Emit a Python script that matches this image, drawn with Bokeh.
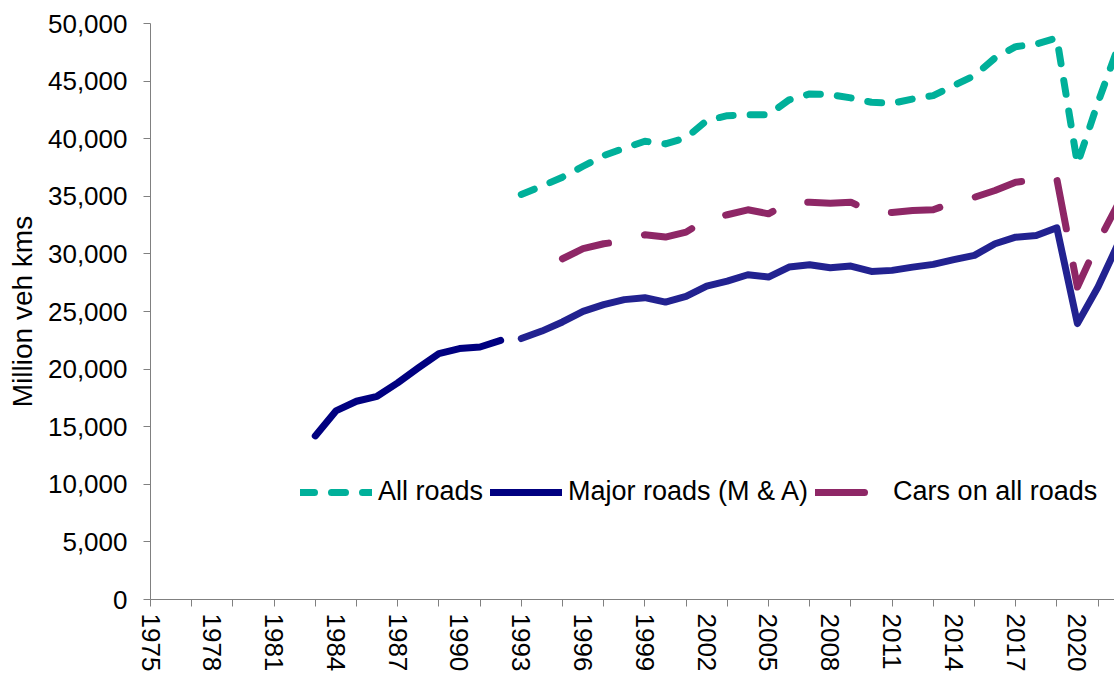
from bokeh.plotting import figure
from bokeh.models import Range1d, FixedTicker, NumeralTickFormatter, Legend, LegendItem
from bokeh.embed import file_html
from bokeh.resources import INLINE

# ---- data ----
years_all = list(range(1993, 2023))
all_roads = [35160, 35880, 36660, 37610, 38540, 39170, 39780, 39550, 40070, 41570,
             42000, 42070, 42070, 43370, 43890, 43830, 43540, 43160, 43070, 43450,
             43740, 44610, 45480, 47010, 47990, 48220, 48740, 37800, 43160, 48080]

years_major_old = list(range(1983, 1993))
major_old = [14200, 16370, 17210, 17640, 18800, 20100, 21350, 21780, 21920, 22500]

years_major_new = list(range(1993, 2023))
major_new = [22650, 23300, 24090, 25010, 25590, 26030, 26200, 25820, 26310, 27200,
             27640, 28190, 27990, 28860, 29060, 28800, 28940, 28480, 28570, 28850,
             29090, 29500, 29870, 30880, 31450, 31600, 32270, 23950, 27120, 30970]

years_cars = list(range(1995, 2023))
cars = [29580, 30450, 30880, 31110, 31660, 31460, 31890, 33000, 33400, 33830,
        33480, 34460, 34490, 34400, 34490, 33620, 33600, 33770, 33830, 34490,
        34920, 35500, 36220, 36430, 36500, 27120, 31020, 34430]

y_ticks = list(range(0, 50001, 5000))
x_label_years = list(range(1975, 2022, 3))
x_tick_years = list(range(1975, 2022, 2))

labels = ["All roads", "Major roads (M & A)", "Cars on all roads"]
y_title = "Million veh kms"

# ---- styles ----
FONT = "Liberation Sans"
TEAL = "#00B09A"
NAVY = "#000080"
NAVY2 = "#222290"
PURPLE = "#8E2766"
AXIS = "#808080"

p = figure(width=1114, height=675, output_backend="svg", toolbar_location=None,
           x_range=Range1d(1975, 2021.8), y_range=Range1d(0, 50000),
           min_border_left=150, min_border_right=0, min_border_top=23,
           min_border_bottom=76)
p.outline_line_color = None
p.grid.visible = False

r_all = p.line(years_all, all_roads, line_color=TEAL, line_width=7,
               line_dash="14 17", line_cap="round", line_join="round")
r_maj_old = p.line(years_major_old, major_old, line_color=NAVY, line_width=7,
                   line_cap="round", line_join="round")
r_maj_new = p.line(years_major_new, major_new, line_color=NAVY2, line_width=7,
                   line_cap="round", line_join="round")
r_cars = p.line(years_cars, cars, line_color=PURPLE, line_width=7,
                line_dash="49 37", line_cap="round", line_join="round")

# y axis
ya = p.yaxis[0]
ya.ticker = FixedTicker(ticks=y_ticks, minor_ticks=[])
ya.formatter = NumeralTickFormatter(format="0,0")
ya.axis_label = y_title
ya.axis_label_text_font = FONT
ya.axis_label_text_font_size = "28px"
ya.axis_label_text_font_style = "normal"
ya.axis_label_text_color = "black"
ya.axis_label_standoff = 7
ya.major_label_text_font = FONT
ya.major_label_text_font_size = "26px"
ya.major_label_text_color = "black"
ya.major_label_standoff = 16
ya.major_tick_out = 7
ya.major_tick_in = 0
ya.minor_tick_out = 0
ya.minor_tick_in = 0
ya.axis_line_color = AXIS
ya.major_tick_line_color = AXIS

# x axis
xa = p.xaxis[0]
xa.ticker = FixedTicker(ticks=x_label_years, minor_ticks=x_tick_years)
xa.formatter = NumeralTickFormatter(format="0")
xa.major_label_orientation = "vertical"
xa.major_label_text_font = FONT
xa.major_label_text_font_size = "26px"
xa.major_label_text_color = "black"
xa.major_label_standoff = 7
xa.major_tick_out = 0
xa.major_tick_in = 0
xa.minor_tick_out = 7
xa.minor_tick_in = 0
xa.minor_tick_line_color = AXIS
xa.axis_line_color = AXIS

legend = Legend(items=[LegendItem(label=labels[0], renderers=[r_all]),
                       LegendItem(label=labels[1], renderers=[r_maj_old]),
                       LegendItem(label=labels[2], renderers=[r_cars])],
                location=(150, 92), orientation="horizontal",
                glyph_width=72, glyph_height=30, label_height=30,
                label_standoff=6, spacing=7, padding=0, margin=0,
                border_line_alpha=0, background_fill_alpha=0,
                label_text_font=FONT, label_text_font_size="27px",
                label_text_color="black")
p.add_layout(legend)

open("out.html", "w").write(file_html(p, INLINE))
